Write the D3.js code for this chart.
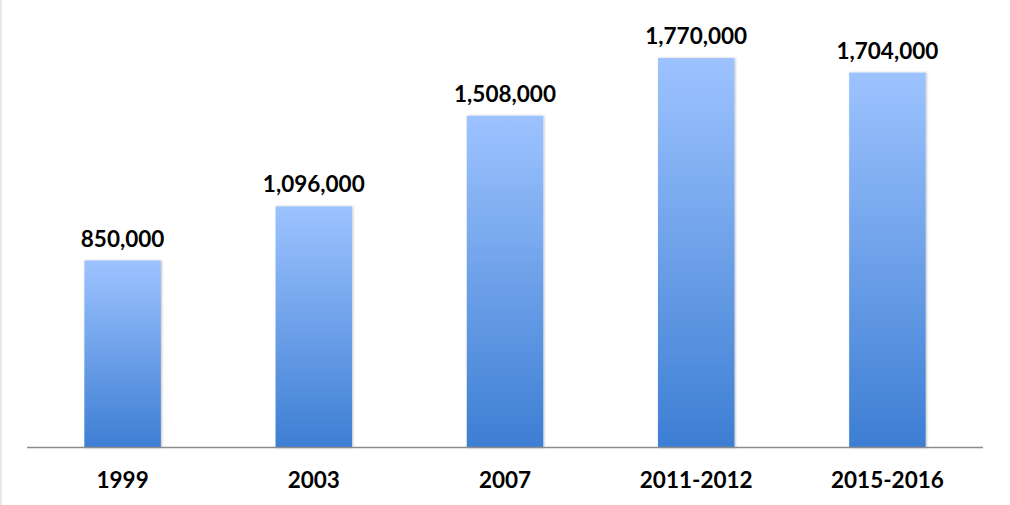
<!DOCTYPE html>
<html><head><meta charset="utf-8">
<script src="https://cdn.jsdelivr.net/npm/d3@7"></script>
<style>body{margin:0;background:#fff;} svg{display:block;}</style>
</head><body>
<svg id="c" width="1010" height="505"></svg>
<script>
const categories = ["1999","2003","2007","2011-2012","2015-2016"];
const values = [850000,1096000,1508000,1770000,1704000];
const labels = ["850,000","1,096,000","1,508,000","1,770,000","1,704,000"];

const svg = d3.select("#c");
const x = d3.scaleBand().domain(categories).range([27,983]).paddingInner(0.6).paddingOuter(0.3);
const y = d3.scaleLinear().domain([0,2000000]).range([447.5,7.5]);

const defs = svg.append("defs");
const g = defs.append("linearGradient").attr("id","grad").attr("x1",0).attr("y1",0).attr("x2",0).attr("y2",1);
g.append("stop").attr("offset","0%").attr("stop-color","#9dc3ff");
g.append("stop").attr("offset","100%").attr("stop-color","#3d7ed3");
const f = defs.append("filter").attr("id","sh").attr("x","-10%").attr("y","-10%").attr("width","130%").attr("height","130%");
f.append("feDropShadow").attr("dx",1).attr("dy",0).attr("stdDeviation",1.2).attr("flood-color","#000").attr("flood-opacity",0.25);

svg.append("line").attr("x1",1).attr("x2",1).attr("y1",0).attr("y2",505).attr("stroke","#d0d0d0").attr("stroke-width",1);

svg.selectAll("rect.bar").data(categories).join("rect").attr("class","bar")
  .attr("x",d=>x(d)).attr("width",x.bandwidth())
  .attr("y",(d,i)=>y(values[i])).attr("height",(d,i)=>y(0)-y(values[i]))
  .attr("fill","url(#grad)").attr("filter","url(#sh)");

const axis = svg.append("g").attr("transform",`translate(0,${y(0)})`)
  .call(d3.axisBottom(x).tickSize(0).tickPadding(25));
axis.select(".domain").attr("stroke","#8c8c8c").attr("stroke-width",1.3).attr("d","M27,0H983");
axis.selectAll("text").attr("font-family","Lato, 'Open Sans', sans-serif").attr("font-weight","bold")
  .attr("font-size","22.5px").attr("fill","#000");

svg.selectAll("text.val").data(categories).join("text").attr("class","val")
  .attr("x",d=>x(d)+x.bandwidth()/2).attr("y",(d,i)=>y(values[i])-14)
  .attr("text-anchor","middle").attr("font-family","Lato, 'Open Sans', sans-serif")
  .attr("font-weight","bold").attr("font-size","22.5px").attr("fill","#000")
  .text((d,i)=>labels[i]);
</script>
</body></html>
